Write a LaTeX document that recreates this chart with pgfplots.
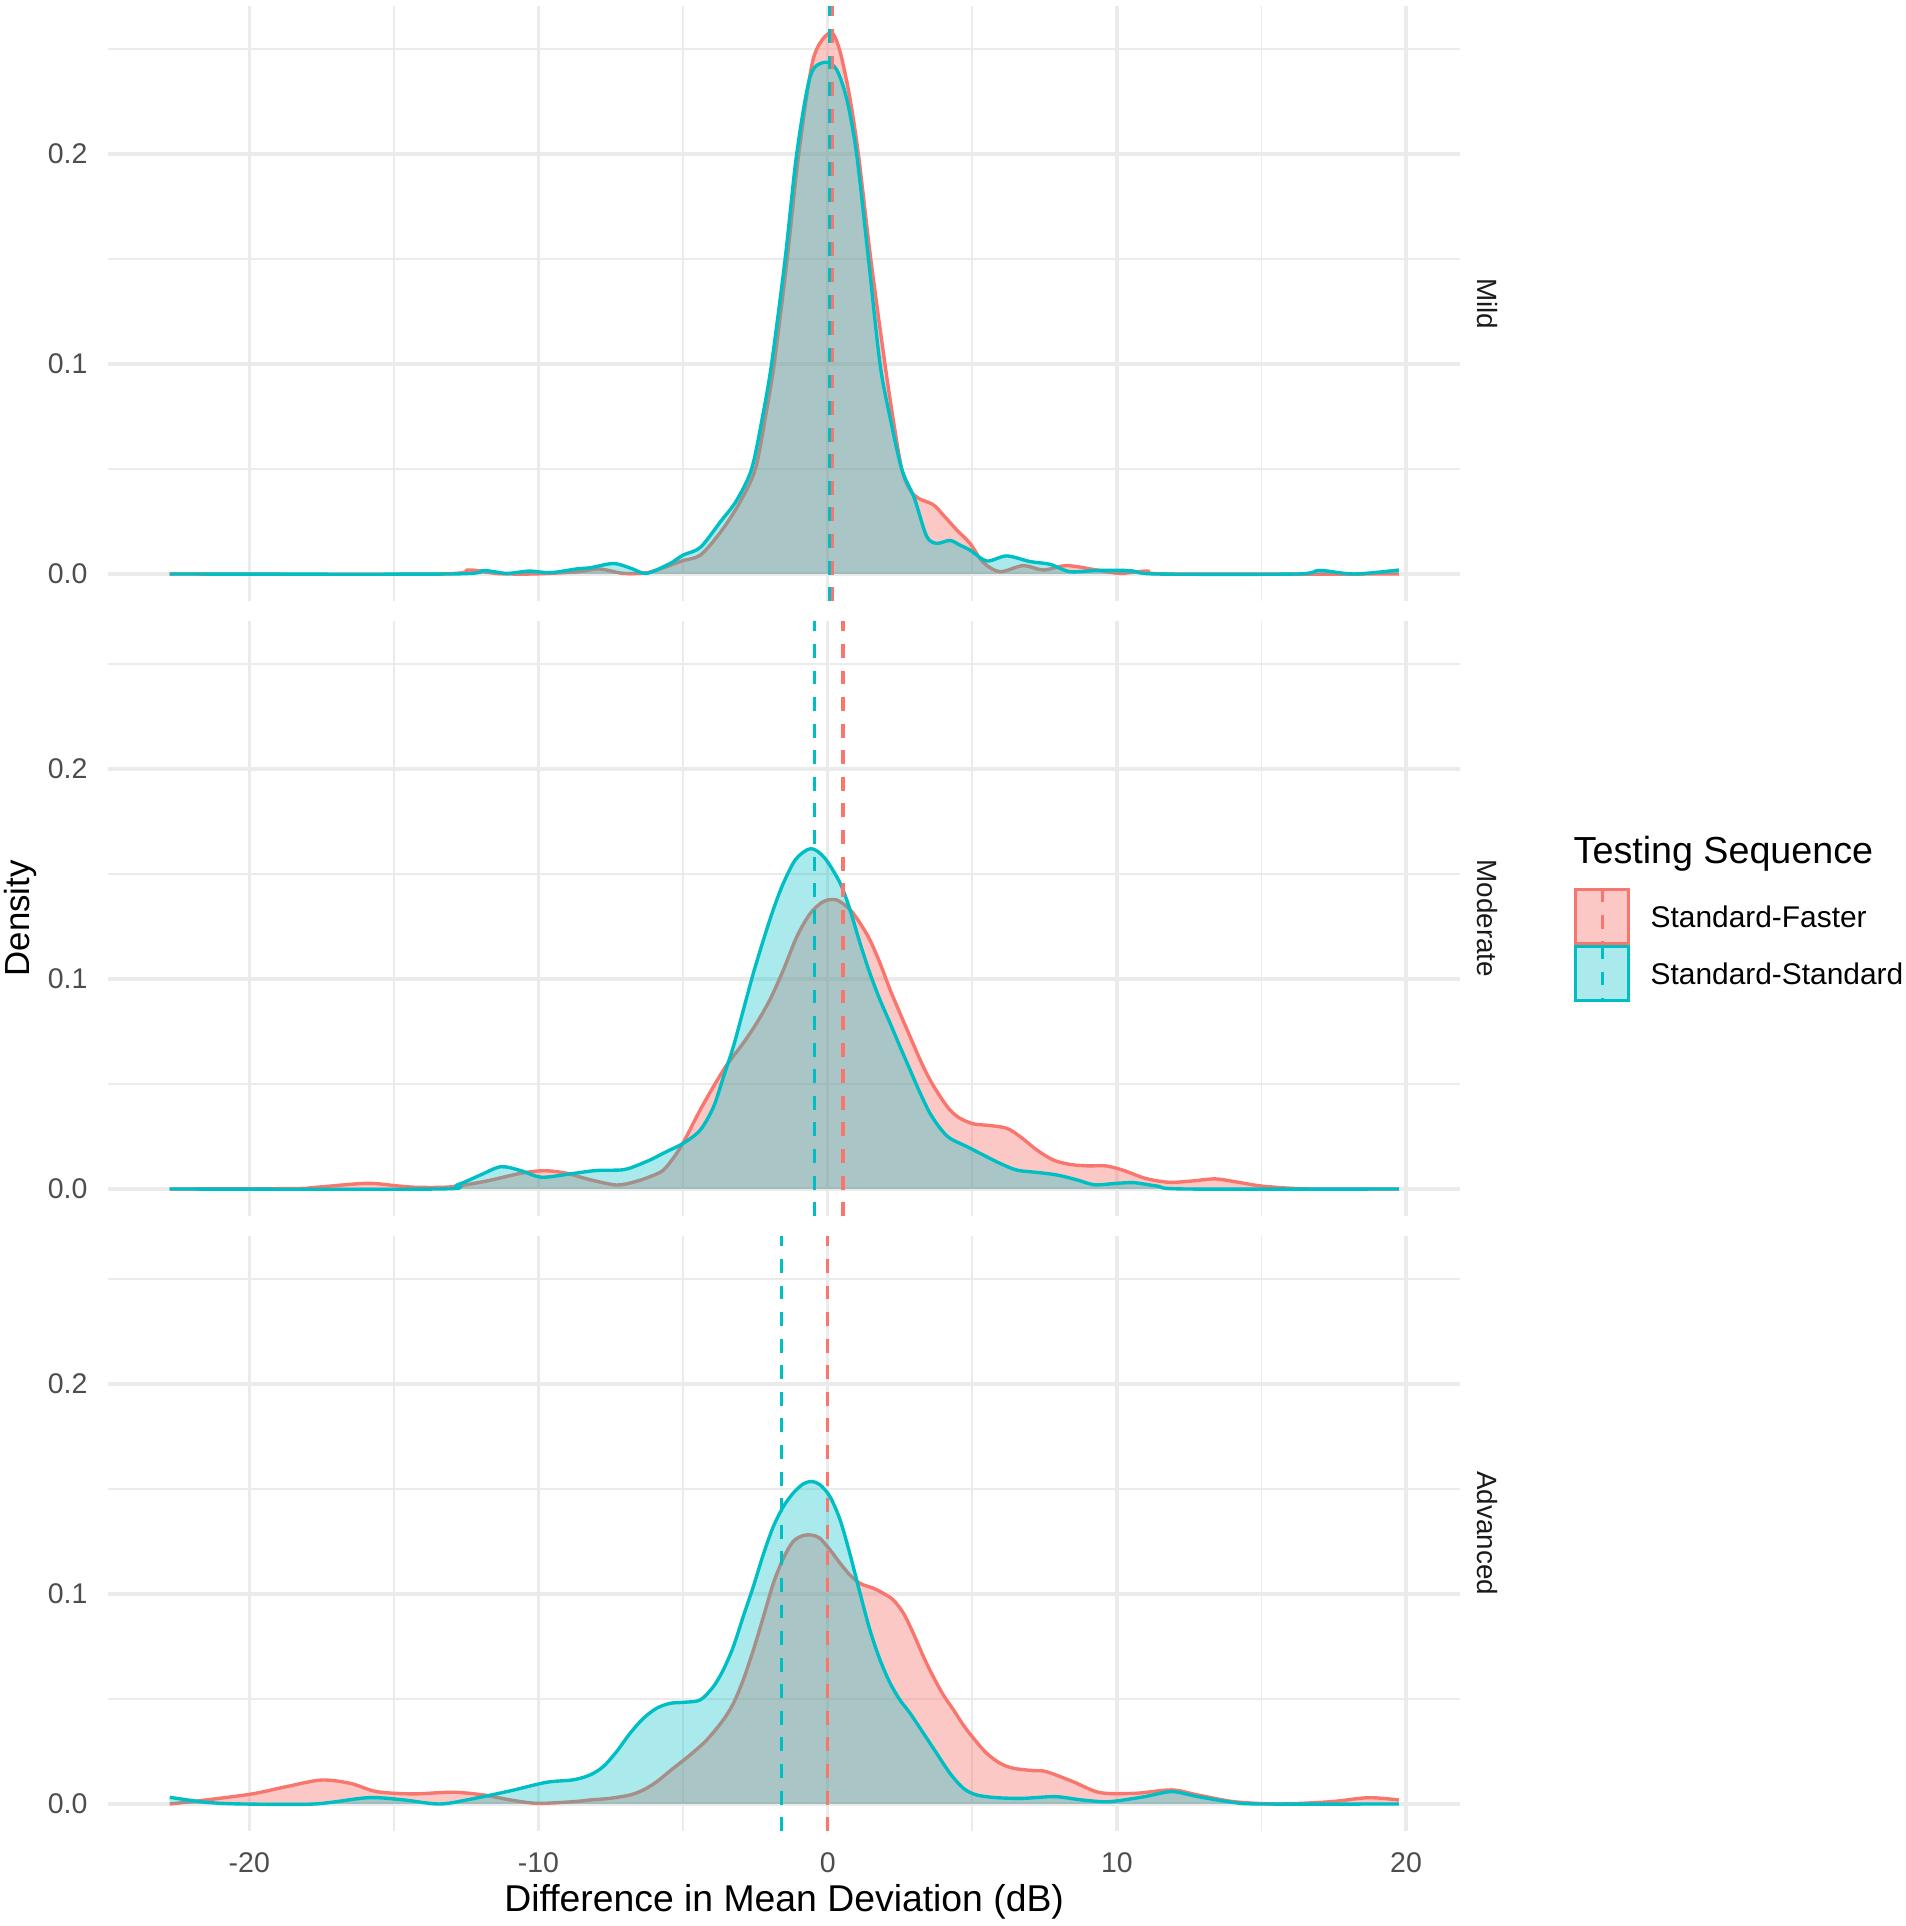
\documentclass[border=0pt]{standalone}
\usepackage{fontspec}
\setmainfont{Liberation Sans}
\usepackage{pgfplots}
\usepackage{pgfplotstable}
\pgfplotsset{compat=1.18}
\definecolor{sfred}{HTML}{F8766D}
\definecolor{ssteal}{HTML}{00BFC4}
\definecolor{grid92}{HTML}{EBEBEB}
\definecolor{grey30}{HTML}{4D4D4D}
\definecolor{grey10}{HTML}{1A1A1A}

% ---------------- Mild ----------------
\pgfplotstableread{
x y
-22.75 0
-13.5 0
-12.4 0.0019
-11.4 0.0002
-10.2 0
-8.68 0.001
-7.9 0.0024
-7.07 0.0003
-6.26 0.0006
-5.57 0.0035
-5.0 0.0064
-4.4 0.009
-3.7 0.02
-3.04 0.034
-2.5 0.05
-2.15 0.075
-1.85 0.1
-1.4 0.15
-1.0 0.2
-0.5 0.245
0.08 0.2576
0.4 0.250
0.75 0.228
1.06 0.200
1.49 0.150
1.98 0.100
2.25 0.075
2.56 0.050
2.85 0.040
3.14 0.036
3.65 0.033
4.0 0.028
4.46 0.021
4.92 0.0146
5.38 0.0055
5.96 0.0011
6.76 0.004
7.46 0.0019
8.26 0.004
9.3 0.0019
10.1 0.0003
11.03 0.0014
11.8 0
19.75 0
}\mildSF
\pgfplotstableread{
x y
-22.75 0
-13.06 0
-11.9 0.0016
-11.1 0.0003
-10.3 0.0014
-9.6 0.0006
-8.68 0.0024
-8.2 0.003
-7.4 0.005
-6.8 0.0027
-6.26 0.0003
-5.45 0.005
-5.0 0.009
-4.4 0.0127
-3.7 0.025
-3.15 0.035
-2.63 0.05
-2.25 0.075
-1.94 0.1
-1.47 0.15
-1.07 0.2
-0.6 0.237
-0.09 0.2436
0.31 0.240
0.66 0.226
1.0 0.200
1.41 0.150
1.81 0.100
2.15 0.075
2.56 0.050
3.0 0.036
3.42 0.018
3.77 0.0146
4.23 0.016
4.58 0.0137
4.92 0.0114
5.5 0.0062
6.19 0.0086
7.0 0.0059
7.69 0.0046
8.38 0.0011
9.3 0.0017
10.45 0.0016
11.37 0
16.2 0
17.02 0.0017
18.2 0
19.75 0.0019
}\mildSS

% ---------------- Moderate ----------------
\pgfplotstableread{
x y
-22.75 0
-18.5 0.0002
-17.7 0.0008
-15.94 0.0027
-14.9 0.0015
-14.2 0.0008
-13.06 0.001
-11.9 0.0035
-10.6 0.0075
-9.8 0.0087
-9.03 0.0075
-8.24 0.0045
-7.3 0.0019
-6.65 0.0035
-6.14 0.0059
-5.68 0.009
-5.22 0.017
-4.88 0.025
-4.41 0.0376
-3.95 0.0487
-3.49 0.059
-2.92 0.0694
-2.46 0.0789
-2.0 0.09
-1.53 0.1043
-1.07 0.12
-0.61 0.131
-0.15 0.1368
0.31 0.1376
0.77 0.133
1.12 0.1265
1.46 0.1186
1.81 0.1075
2.16 0.0948
2.5 0.0837
2.85 0.0725
3.2 0.0614
3.54 0.0519
3.89 0.044
4.23 0.0376
4.57 0.0337
5.04 0.031
5.61 0.0302
6.19 0.0289
6.65 0.025
7.23 0.0186
7.8 0.0138
8.38 0.0117
9.0 0.011
9.62 0.011
10.2 0.009
11.0 0.005
11.8 0.0032
12.6 0.0038
13.4 0.0048
14.2 0.0032
15.0 0.0014
16.2 0.0002
17.0 0
19.75 0
}\modSF
\pgfplotstableread{
x y
-22.75 0
-13.5 0
-12.8 0.002
-12.0 0.0067
-11.3 0.0106
-10.6 0.0087
-9.9 0.0056
-8.9 0.0072
-8.0 0.0088
-7.05 0.0092
-6.45 0.012
-6.14 0.0138
-5.57 0.0178
-5.0 0.0217
-4.41 0.028
-3.95 0.039
-3.6 0.0535
-3.26 0.0678
-2.92 0.085
-2.57 0.1027
-2.22 0.1186
-1.88 0.133
-1.53 0.1456
-1.1 0.157
-0.58 0.162
-0.1 0.1575
0.43 0.1456
0.77 0.133
1.12 0.117
1.46 0.1027
1.81 0.09
2.16 0.0789
2.5 0.0678
2.85 0.0567
3.2 0.0456
3.54 0.036
3.89 0.0289
4.23 0.0241
4.81 0.0202
5.38 0.0162
5.96 0.0122
6.54 0.009
7.23 0.0079
7.92 0.0067
8.63 0.0043
9.23 0.002
10.0 0.0027
10.6 0.003
11.4 0.0014
12.4 0
19.75 0
}\modSS

% ---------------- Advanced ----------------
\pgfplotstableread{
x y
-22.75 0
-21.5 0.0019
-19.9 0.0048
-18.7 0.0083
-17.5 0.0114
-16.5 0.0098
-15.6 0.0059
-14.36 0.0048
-12.97 0.0056
-11.9 0.0043
-10.96 0.0019
-10.03 0.0003
-8.8 0.0011
-8.22 0.0019
-7.53 0.0027
-6.83 0.0043
-6.37 0.0067
-5.91 0.0106
-5.34 0.017
-4.76 0.0233
-4.18 0.0305
-3.61 0.04
-3.26 0.0479
-2.92 0.059
-2.57 0.0733
-2.22 0.0892
-1.88 0.105
-1.53 0.117
-1.19 0.125
-0.84 0.1278
-0.55 0.128
-0.27 0.1265
0.08 0.121
0.43 0.1146
0.77 0.109
1.12 0.105
1.58 0.1027
1.92 0.1003
2.27 0.0971
2.62 0.0908
2.96 0.0813
3.31 0.0702
3.65 0.0606
4.0 0.0519
4.35 0.0448
4.69 0.0376
5.04 0.0313
5.5 0.0241
5.96 0.0194
6.42 0.017
7.11 0.0159
7.56 0.0154
8.49 0.0106
9.42 0.0054
10.65 0.0051
11.9 0.0067
12.8 0.0043
14.05 0.0011
15.6 0
17.4 0.0011
18.7 0.003
19.75 0.0019
}\advSF
\pgfplotstableread{
x y
-22.75 0.0032
-21.5 0.0008
-20.2 0
-17.75 0
-15.9 0.003
-14.7 0.002
-13.4 0
-12.2 0.0027
-10.96 0.0063
-9.73 0.0103
-8.8 0.0115
-8.22 0.0138
-7.76 0.0178
-7.3 0.0249
-6.83 0.0337
-6.37 0.0408
-5.91 0.0456
-5.45 0.0479
-4.99 0.0484
-4.41 0.0495
-3.95 0.0559
-3.61 0.0638
-3.26 0.0749
-2.92 0.0892
-2.57 0.1035
-2.22 0.119
-1.88 0.132
-1.53 0.1416
-1.19 0.148
-0.84 0.1524
-0.55 0.1535
-0.27 0.152
0.08 0.1463
0.43 0.1352
0.77 0.119
1.12 0.1003
1.46 0.0829
1.81 0.0686
2.16 0.0575
2.5 0.0495
2.85 0.0432
3.31 0.0337
3.77 0.0241
4.23 0.0146
4.69 0.0075
5.15 0.0043
5.84 0.003
6.76 0.0027
7.87 0.0035
8.8 0.0019
9.73 0.0011
10.96 0.0035
11.9 0.0059
12.8 0.0035
14.0 0.0008
15.0 0
19.75 0
}\advSS

\pgfplotsset{
  panel/.style={
    scale only axis, width=427.23pt, height=188.15pt,
    anchor=south west,
    xmin=-24.875, xmax=21.875, ymin=-0.0129, ymax=0.2705,
    xtick={-20,-10,0,10,20}, minor xtick={-15,-5,5,15},
    ytick={0,0.1,0.2}, minor ytick={0.05,0.15,0.25},
    yticklabels={0.0,0.1,0.2},
    grid=both,
    major grid style={line width=1.07pt, draw=grid92},
    minor grid style={line width=0.53pt, draw=grid92},
    major tick length=0pt, minor tick length=0pt,
    tick style={draw=none},
    axis line style={draw=none},
    tick label style={font=\fontsize{9}{10.5}\selectfont, text=grey30},
    yticklabel style={inner sep=0pt, anchor=east, xshift=-6.4pt},
    xticklabel style={inner sep=0pt, anchor=north, yshift=-6.5pt},
    no markers,
  },
  fillSF/.style={draw=none, fill=sfred, fill opacity=0.4, smooth},
  fillSS/.style={draw=none, fill=ssteal, fill opacity=0.33, smooth},
  lineSF/.style={draw=sfred, line width=1.07pt, smooth},
  lineSS/.style={draw=ssteal, line width=1.07pt, smooth},
  vSF/.style={draw=sfred, line width=0.95pt, dash pattern=on 4.4pt off 4.0pt},
  vSS/.style={draw=ssteal, line width=0.95pt, dash pattern=on 4.4pt off 4.0pt},
}

\begin{document}
\begin{tikzpicture}
\useasboundingbox (0,0) rectangle (602.30pt,608.62pt);

% Mild
\begin{axis}[panel, at={(34.22pt,418.67pt)}, xticklabels={}]
\addplot[fillSF] table {\mildSF} \closedcycle;
\addplot[lineSF] table {\mildSF};
\addplot[fillSS] table {\mildSS} \closedcycle;
\addplot[lineSS] table {\mildSS};
\addplot[vSF] coordinates {(0.16,-0.0129) (0.16,0.2705)};
\addplot[vSS] coordinates {(0.08,-0.0129) (0.08,0.2705)};
\end{axis}

% Moderate
\begin{axis}[panel, at={(34.22pt,224.33pt)}, xticklabels={}]
\addplot[fillSF] table {\modSF} \closedcycle;
\addplot[lineSF] table {\modSF};
\addplot[fillSS] table {\modSS} \closedcycle;
\addplot[lineSS] table {\modSS};
\addplot[vSF] coordinates {(0.53,-0.0129) (0.53,0.2705)};
\addplot[vSS] coordinates {(-0.46,-0.0129) (-0.46,0.2705)};
\end{axis}

% Advanced
\begin{axis}[panel, at={(34.22pt,29.99pt)}, xticklabels={-20,-10,0,10,20}]
\addplot[fillSF] table {\advSF} \closedcycle;
\addplot[lineSF] table {\advSF};
\addplot[fillSS] table {\advSS} \closedcycle;
\addplot[lineSS] table {\advSS};
\addplot[vSF] coordinates {(0.0,-0.0129) (0.0,0.2705)};
\addplot[vSS] coordinates {(-1.59,-0.0129) (-1.59,0.2705)};
\end{axis}

% strip labels
\begin{scope}[every node/.style={font=\fontsize{8.8}{10.5}\selectfont, text=grey10, rotate=-90, inner sep=0pt}]
\node at (469.9pt,512.7pt) {Mild};
\node at (469.9pt,318.4pt) {Moderate};
\node at (469.9pt,124.1pt) {Advanced};
\end{scope}

% axis titles
\node[font=\fontsize{11}{13}\selectfont, rotate=90, inner sep=0pt] at (6.6pt,318.4pt) {Density};
\node[font=\fontsize{11.8}{13}\selectfont, anchor=base, inner sep=0pt] at (247.8pt,4.6pt) {Difference in Mean Deviation (dB)};

% legend
\node[font=\fontsize{11.9}{13}\selectfont, anchor=base west, inner sep=0pt] at (497.1pt,335.9pt) {Testing Sequence};
\fill[sfred, fill opacity=0.4] (497.4pt,310.0pt) rectangle (515.1pt,328.0pt);
\draw[sfred, line width=0.9pt] (497.85pt,310.45pt) rectangle (514.65pt,327.55pt);
\draw[sfred, line width=0.95pt, dash pattern=on 4.4pt off 4.0pt] (506.25pt,328.0pt) -- (506.25pt,310.0pt);
\fill[ssteal, fill opacity=0.33] (497.4pt,292.0pt) rectangle (515.1pt,310.0pt);
\draw[ssteal, line width=0.9pt] (497.85pt,292.45pt) rectangle (514.65pt,309.55pt);
\draw[ssteal, line width=0.95pt, dash pattern=on 4.4pt off 4.0pt] (506.25pt,310.0pt) -- (506.25pt,292.0pt);
\node[font=\fontsize{9.45}{11}\selectfont, anchor=west, inner sep=0pt] at (521.4pt,319.0pt) {Standard-Faster};
\node[font=\fontsize{9.45}{11}\selectfont, anchor=west, inner sep=0pt] at (521.4pt,301.0pt) {Standard-Standard};
\end{tikzpicture}
\end{document}
